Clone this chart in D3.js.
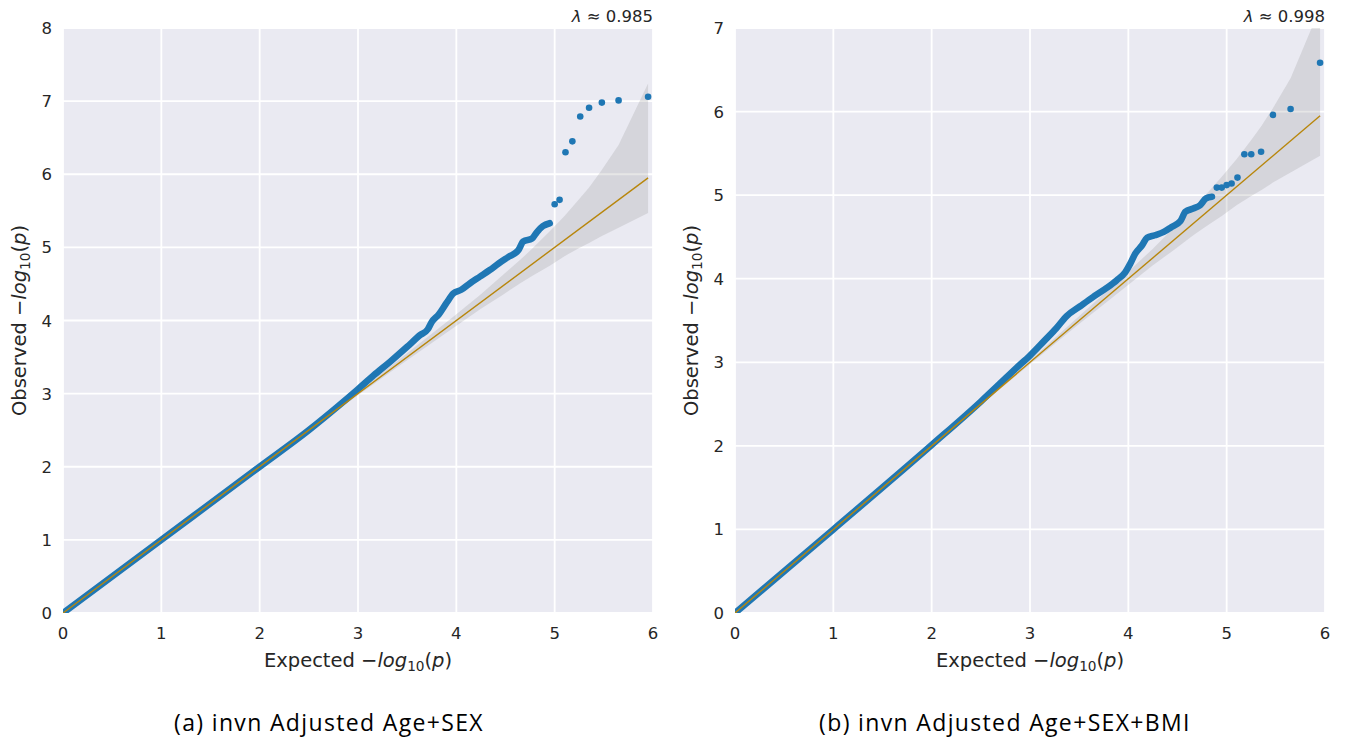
<!DOCTYPE html>
<html>
<head>
<meta charset="utf-8">
<script src="https://cdn.jsdelivr.net/npm/d3@7"></script>
<style>
  html, body { margin: 0; padding: 0; background: #ffffff; }
  svg { display: block; }
  text { font-family: "DejaVu Sans", sans-serif; fill: #262626; }
  .caption { font-family: "Open Sans", "DejaVu Sans", sans-serif; fill: #000; letter-spacing: 1.35px; }
</style>
</head>
<body>
<svg id="chart" width="1346" height="740"></svg>
<script>
// Q-Q plots of GWAS p-values: expected vs observed -log10(p)

// Panel (a): invn Adjusted Age+SEX
const aDenseExpected = [0, 1, 2, 2.5, 2.8, 3.0, 3.16, 3.33, 3.5, 3.63, 3.71, 3.75, 3.82, 3.9, 3.97, 4.05, 4.14, 4.24, 4.34, 4.43, 4.53, 4.63, 4.68, 4.77, 4.82, 4.88, 4.95];
const aDenseObserved = [0, 1, 2, 2.5, 2.83, 3.06, 3.25, 3.44, 3.64, 3.80, 3.88, 3.98, 4.08, 4.24, 4.37, 4.42, 4.51, 4.60, 4.69, 4.78, 4.87, 4.96, 5.08, 5.12, 5.21, 5.29, 5.33];
const aTailExpected = [5.00, 5.05, 5.11, 5.18, 5.26, 5.35, 5.48, 5.65, 5.95];
const aTailObserved = [5.59, 5.65, 6.30, 6.45, 6.79, 6.91, 6.98, 7.01, 7.06];
const aYTicks = [0, 1, 2, 3, 4, 5, 6, 7, 8];
const aLambda = "0.985";

// Panel (b): invn Adjusted Age+SEX+BMI
const bDenseExpected = [0, 1, 2, 2.5, 2.69, 2.86, 3.0, 3.14, 3.27, 3.37, 3.51, 3.64, 3.78, 3.88, 3.97, 4.02, 4.07, 4.14, 4.19, 4.27, 4.36, 4.44, 4.53, 4.58, 4.66, 4.73, 4.79, 4.85];
const bDenseObserved = [0, 1, 2.01, 2.53, 2.74, 2.93, 3.08, 3.25, 3.41, 3.55, 3.67, 3.78, 3.89, 3.98, 4.08, 4.18, 4.30, 4.40, 4.49, 4.52, 4.56, 4.62, 4.69, 4.80, 4.84, 4.88, 4.96, 4.98];
const bTailExpected = [4.90, 4.95, 5.00, 5.05, 5.11, 5.18, 5.25, 5.35, 5.47, 5.65, 5.95];
const bTailObserved = [5.09, 5.09, 5.12, 5.14, 5.21, 5.49, 5.49, 5.52, 5.96, 6.03, 6.585];
const bYTicks = [0, 1, 2, 3, 4, 5, 6, 7];
const bLambda = "0.998";

// 90% confidence band around the null diagonal
const bandExpected = [0, 1.95, 2.95, 3.47, 3.95, 4.25, 4.47, 4.65, 4.77, 4.95, 5.10, 5.25, 5.35, 5.47, 5.65, 5.95];
const bandUpper    = [0, 1.96, 2.97, 3.52, 4.03, 4.36, 4.62, 4.83, 4.98, 5.22, 5.43, 5.66, 5.82, 6.04, 6.40, 7.24];
const bandLower    = [0, 1.94, 2.93, 3.43, 3.88, 4.16, 4.35, 4.51, 4.61, 4.75, 4.88, 4.99, 5.06, 5.15, 5.27, 5.47];
const nullLine = [0, 5.95];

const xTicks = [0, 1, 2, 3, 4, 5, 6];

const panels = [
  { id: "a", left: 63, denseX: aDenseExpected, denseY: aDenseObserved, tailX: aTailExpected, tailY: aTailObserved,
    yTicks: aYTicks, yMax: 8, lambda: aLambda, caption: "(a) invn Adjusted Age+SEX", captionX: 329 },
  { id: "b", left: 735, denseX: bDenseExpected, denseY: bDenseObserved, tailX: bTailExpected, tailY: bTailObserved,
    yTicks: bYTicks, yMax: 7, lambda: bLambda, caption: "(b) invn Adjusted Age+SEX+BMI", captionX: 1005 }
];

const svg = d3.select("#chart");
const plotW = 590, plotTop = 28, plotBottom = 613;
const pointColor = "#1f77b4";
const lineColor = "#b8860b";

panels.forEach(p => {
  const x = d3.scaleLinear().domain([0, 6]).range([p.left, p.left + plotW]);
  const y = d3.scaleLinear().domain([0, p.yMax]).range([plotBottom, plotTop]);
  const g = svg.append("g");

  const clipId = "clip-" + p.id;
  svg.append("defs").append("clipPath").attr("id", clipId)
    .append("rect").attr("x", p.left).attr("y", plotTop).attr("width", plotW).attr("height", plotBottom - plotTop);

  // background
  g.append("rect").attr("x", p.left).attr("y", plotTop).attr("width", plotW).attr("height", plotBottom - plotTop)
    .attr("fill", "#eaeaf2");

  // grid
  g.append("g").selectAll("line").data(xTicks).join("line")
    .attr("x1", d => x(d)).attr("x2", d => x(d)).attr("y1", plotTop).attr("y2", plotBottom)
    .attr("stroke", "#fff").attr("stroke-width", 1.8);
  g.append("g").selectAll("line").data(p.yTicks).join("line")
    .attr("x1", p.left).attr("x2", p.left + plotW).attr("y1", d => y(d)).attr("y2", d => y(d))
    .attr("stroke", "#fff").attr("stroke-width", 1.8);

  const inner = g.append("g").attr("clip-path", `url(#${clipId})`);

  // confidence band
  const bandData = bandExpected.map((e, i) => ({ e, lo: bandLower[i], hi: bandUpper[i] }));
  inner.append("path").datum(bandData)
    .attr("d", d3.area().x(d => x(d.e)).y0(d => y(d.lo)).y1(d => y(d.hi)))
    .attr("fill", "#808080").attr("fill-opacity", 0.2);

  // dense run of observed points
  const dense = p.denseX.map((e, i) => [e, p.denseY[i]]);
  inner.append("path").datum(dense)
    .attr("d", d3.line().x(d => x(d[0])).y(d => y(d[1])).curve(d3.curveMonotoneX))
    .attr("fill", "none").attr("stroke", pointColor).attr("stroke-width", 6.6)
    .attr("stroke-linecap", "round").attr("stroke-linejoin", "round");

  // sparse tail points
  inner.append("g").selectAll("circle").data(p.tailX.map((e, i) => [e, p.tailY[i]])).join("circle")
    .attr("cx", d => x(d[0])).attr("cy", d => y(d[1])).attr("r", 3.3).attr("fill", pointColor);

  // null diagonal
  inner.append("line")
    .attr("x1", x(nullLine[0])).attr("y1", y(nullLine[0])).attr("x2", x(nullLine[1])).attr("y2", y(nullLine[1]))
    .attr("stroke", lineColor).attr("stroke-width", 1.4);

  // tick labels
  g.append("g").selectAll("text").data(xTicks).join("text")
    .attr("x", d => x(d)).attr("y", plotBottom + 26).attr("text-anchor", "middle")
    .attr("font-size", 16.5).text(d => d);
  g.append("g").selectAll("text").data(p.yTicks).join("text")
    .attr("x", p.left - 11).attr("y", d => y(d) + 6).attr("text-anchor", "end")
    .attr("font-size", 16.5).text(d => d);

  // axis labels with math-style -log10(p)
  const mathLabel = (sel, word) => {
    sel.append("tspan").text(word + " \u2212");
    sel.append("tspan").attr("font-style", "italic").text("log");
    sel.append("tspan").attr("font-size", "0.7em").attr("dy", 4).text("10");
    sel.append("tspan").attr("dy", -4).text("(");
    sel.append("tspan").attr("font-style", "italic").text("p");
    sel.append("tspan").text(")");
  };
  const xl = g.append("text").attr("x", x(3)).attr("y", plotBottom + 54).attr("text-anchor", "middle").attr("font-size", 19.5);
  mathLabel(xl, "Expected");
  const yl = g.append("text").attr("transform", `translate(${p.left - 37},${(plotTop + plotBottom) / 2}) rotate(-90)`)
    .attr("text-anchor", "middle").attr("font-size", 19.5);
  mathLabel(yl, "Observed");

  // genomic inflation factor
  const lt = g.append("text").attr("x", p.left + plotW).attr("y", 22).attr("text-anchor", "end").attr("font-size", 16.5);
  lt.append("tspan").attr("font-style", "italic").text("\u03bb");
  lt.append("tspan").text(" \u2248 " + p.lambda);

  // subfigure caption
  svg.append("text").attr("class", "caption").attr("x", p.captionX).attr("y", 731)
    .attr("text-anchor", "middle").attr("font-size", 23).text(p.caption);
});
</script>
</body>
</html>
